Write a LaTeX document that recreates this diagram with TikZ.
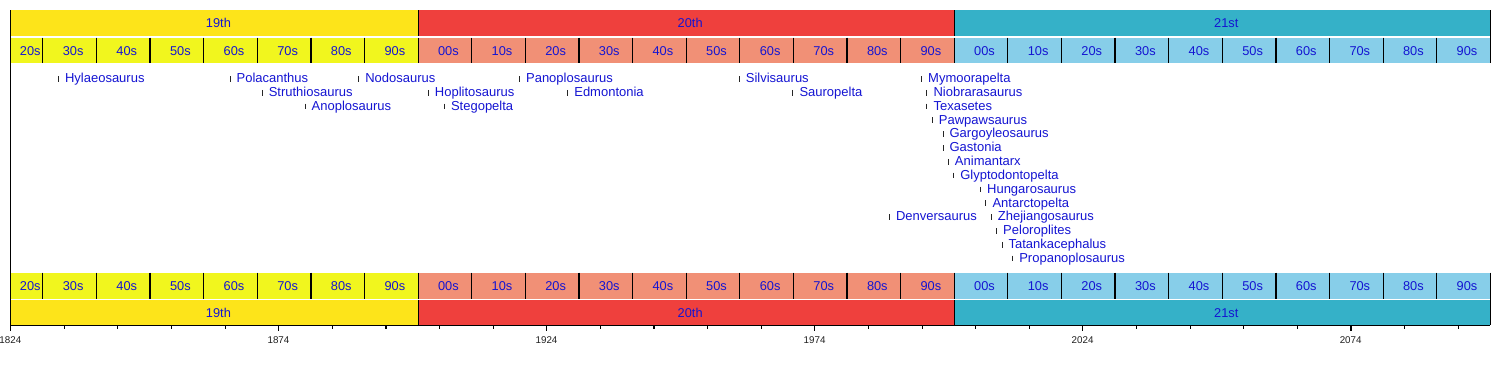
\documentclass[tikz,border=0pt]{standalone}
\usepackage{fontspec}
\setmainfont{Liberation Sans}
\definecolor{c19}{RGB}{253,228,26}
\definecolor{d19}{RGB}{241,246,30}
\definecolor{c20}{RGB}{239,64,61}
\definecolor{d20}{RGB}{241,144,118}
\definecolor{c21}{RGB}{53,177,200}
\definecolor{d21}{RGB}{135,206,233}
\definecolor{txtblue}{RGB}{20,20,210}
\definecolor{axisgrey}{RGB}{30,30,30}
\tikzset{
  barlabel/.style={anchor=base, inner sep=0pt, text=txtblue, font=\fontsize{12.8bp}{14bp}\selectfont},
  entry/.style={anchor=base west, inner sep=0pt, text=txtblue, font=\fontsize{13bp}{15bp}\selectfont},
  entrytick/.style={draw=black!85, line width=0.9bp},
  sepline/.style={draw=black, line width=1.2bp},
  axisline/.style={draw=black, line width=1.1bp},
  axislabel/.style={anchor=base, inner sep=0pt, text=axisgrey, font=\fontsize{9.8bp}{11bp}\selectfont}
}
\begin{document}
\begin{tikzpicture}[x=1bp, y=-1bp, declare function={X(\t)=10.7+(\t-1824)*5.361;}]
\useasboundingbox (0,0) rectangle (1500,375);
% century rows
\foreach \lab/\a/\b/\cc in {19th/1824/1900/c19, 20th/1900/2000/c20, 21st/2000/2100/c21}{
  \fill[\cc] ({X(\a)},10) rectangle ({X(\b)},35.7);
  \fill[\cc] ({X(\a)},299.7) rectangle ({X(\b)},325.3);
  \node[barlabel] (ct-\a) at ({(X(\a)+X(\b))/2+4},27.7) {\lab};
  \node[barlabel] (cb-\a) at ({(X(\a)+X(\b))/2+4},317.3) {\lab};
}
% decade rows
\foreach \a/\b/\cc in {1824/1900/d19, 1900/2000/d20, 2000/2100/d21}{
  \fill[\cc] ({X(\a)},37.7) rectangle ({X(\b)},63.3);
  \fill[\cc] ({X(\a)},272.7) rectangle ({X(\b)},298.7);
}
\node[barlabel] (dt-1820) at ({X(1827)+3.5},55.7) {20s};
\node[barlabel] (db-1820) at ({X(1827)+3.5},290) {20s};
\foreach \d in {1830,1840,...,2090}{
  \pgfmathtruncatemacro\dd{mod(\d,100)}
  \draw[sepline] ({X(\d)},37.7) -- ({X(\d)},63.3);
  \draw[sepline] ({X(\d)},272.7) -- ({X(\d)},298.7);
  \node[barlabel] (dt-\d) at ({X(\d+5)+3.5},55.7) {\ifnum\dd=0 00\else\dd\fi s};
  \node[barlabel] (db-\d) at ({X(\d+5)+3.5},290) {\ifnum\dd=0 00\else\dd\fi s};
}
% century separators and right end
\foreach \b in {1900,2000}{
  \draw[sepline] ({X(\b)},10) -- ({X(\b)},35.7);
  \draw[sepline] ({X(\b)},299.7) -- ({X(\b)},325.3);
}
\draw[sepline] ({X(2100)},10) -- ({X(2100)},63.3);
\draw[sepline] ({X(2100)},272.7) -- ({X(2100)},325.3);
% axes
\coordinate (ax-top) at ({X(1824)},10);
\coordinate (ax-origin) at ({X(1824)},325.3);
\coordinate (ax-end) at ({X(2100)},325.3);
\draw[axisline] (ax-top) -- (ax-origin) -- (ax-end);
\foreach \t in {1834,1844,...,2094}{
  \draw[axisline] ({X(\t)},325.3) -- ({X(\t)},328.6);
}
\foreach \t in {1824,1874,...,2074}{
  \draw[axisline] ({X(\t)},325.3) -- ({X(\t)},331);
  \node[axislabel] (axl-\t) at ({X(\t)-0.3},343.6) {\t};
}
% entries
\foreach \n/\yr/\r in {
  Hylaeosaurus/1833/1, Polacanthus/1865/1, Nodosaurus/1889/1, Panoplosaurus/1919/1, Silvisaurus/1960/1, Mymoorapelta/1994/1,
  Struthiosaurus/1871/2, Hoplitosaurus/1902/2, Edmontonia/1928/2, Sauropelta/1970/2, Niobrarasaurus/1995/2,
  Anoplosaurus/1879/3, Stegopelta/1905/3, Texasetes/1995/3,
  Pawpawsaurus/1996/4, Gargoyleosaurus/1998/5, Gastonia/1998/6, Animantarx/1999/7,
  Glyptodontopelta/2000/8, Hungarosaurus/2005/9, Antarctopelta/2006/10,
  Denversaurus/1988/11, Zhejiangosaurus/2007/11, Peloroplites/2008/12,
  Tatankacephalus/2009/13, Propanoplosaurus/2011/14}{
  \pgfmathsetmacro\yb{82.7+(\r-1)*13.82}
  \coordinate (tk-\n) at ({X(\yr)-0.5},{\yb-6.7});
  \draw[entrytick] (tk-\n) -- ++(0,5.7);
  \node[entry] (e-\n) at ({X(\yr)+5.9},\yb) {\n};
}
\end{tikzpicture}
\end{document}
